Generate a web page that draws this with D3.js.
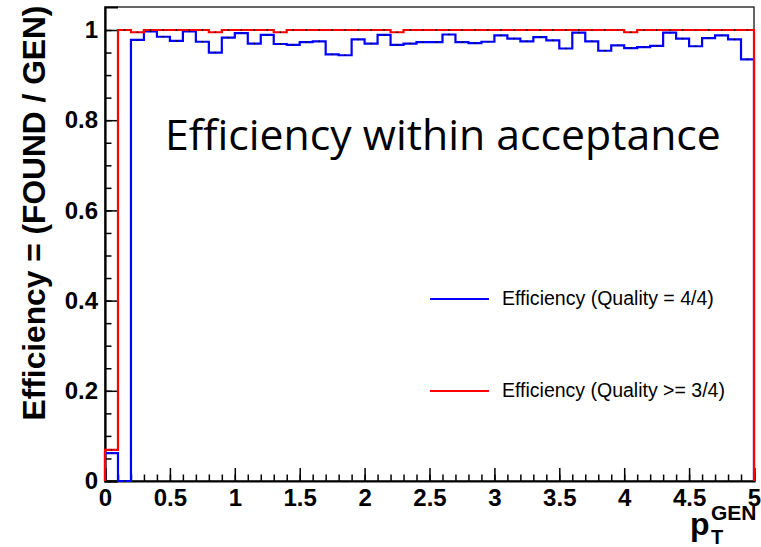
<!DOCTYPE html>
<html>
<head>
<meta charset="utf-8">
<script src="https://cdn.jsdelivr.net/npm/d3@7"></script>
<style>
  html, body { margin: 0; padding: 0; background: #fff; }
  svg { display: block; }
</style>
</head>
<body>
<svg id="chart" width="761" height="547"></svg>
<script>
// Histogram bins: 50 bins of width 0.1 in pT (GeV), from 0 to 5
const binEdges = d3.range(0, 51).map(i => +(i * 0.1).toFixed(1));

// Efficiency with all four layers found (Quality = 4/4)
const effQuality4 = [
  0.062, 0.000, 0.978, 0.997, 0.985, 0.976, 0.997, 0.974, 0.950, 0.983,
  0.993, 0.970, 0.989, 0.969, 0.967, 0.973, 0.975, 0.946, 0.944, 0.979,
  0.970, 0.989, 0.967, 0.970, 0.973, 0.973, 0.990, 0.973, 0.971, 0.974,
  0.988, 0.981, 0.975, 0.984, 0.977, 0.959, 0.994, 0.975, 0.954, 0.966,
  0.960, 0.962, 0.965, 0.994, 0.981, 0.964, 0.982, 0.988, 0.979, 0.935
];

// Efficiency with at least three of four layers found (Quality >= 3/4)
const effQuality3 = [
  0.069, 1.000, 0.995, 1.000, 1.000, 1.000, 1.000, 1.000, 0.995, 1.000,
  1.000, 1.000, 1.000, 0.995, 1.000, 1.000, 1.000, 1.000, 1.000, 1.000,
  1.000, 1.000, 0.995, 1.000, 1.000, 1.000, 1.000, 1.000, 1.000, 1.000,
  1.000, 1.000, 1.000, 1.000, 1.000, 1.000, 1.000, 1.000, 1.000, 1.000,
  0.995, 1.000, 1.000, 1.000, 1.000, 1.000, 1.000, 1.000, 1.000, 1.000
];

const xTickValues = [0, 0.5, 1, 1.5, 2, 2.5, 3, 3.5, 4, 4.5, 5];
const xTickLabels = ["0", "0.5", "1", "1.5", "2", "2.5", "3", "3.5", "4", "4.5", "5"];
const yTickValues = [0, 0.2, 0.4, 0.6, 0.8, 1];
const yTickLabels = ["0", "0.2", "0.4", "0.6", "0.8", "1"];

const seriesNames = ["Efficiency (Quality = 4/4)", "Efficiency (Quality >= 3/4)"];
const seriesColors = ["#0000ff", "#ff0000"];

const svg = d3.select("#chart");
const frame = { left: 105, right: 754, top: 7, bottom: 481 };

const x = d3.scaleLinear().domain([0, 5]).range([frame.left, frame.right]);
const y = d3.scaleLinear().domain([0, 1.051]).range([frame.bottom, frame.top]);

// Frame box
svg.append("rect")
  .attr("x", frame.left).attr("y", frame.top)
  .attr("width", frame.right - frame.left).attr("height", frame.bottom - frame.top)
  .attr("fill", "none").attr("stroke", "#000").attr("stroke-width", 1.2);

const tickFont = "'Liberation Sans', Arial, Helvetica, sans-serif";
const tickSize = 24;

// X axis: major ticks every 0.5, minor every 0.1, drawn inward
const xMinor = d3.axisBottom(x).tickValues(d3.range(0, 51).map(i => i / 10))
  .tickSize(-6.5).tickFormat("");
svg.append("g").attr("transform", `translate(0,${frame.bottom})`).call(xMinor)
  .call(g => g.select(".domain").remove())
  .selectAll("line").attr("stroke", "#000").attr("stroke-width", 1.5);

const xMajor = d3.axisBottom(x).tickValues(xTickValues).tickSize(-13).tickPadding(8)
  .tickFormat((d, i) => xTickLabels[i]);
const gx = svg.append("g").attr("transform", `translate(0,${frame.bottom})`).call(xMajor);
gx.select(".domain").attr("stroke", "#000").attr("stroke-width", 2.2);
gx.selectAll("line").attr("stroke", "#000").attr("stroke-width", 1.5);
gx.selectAll("text").attr("font-family", tickFont).attr("font-size", tickSize)
  .attr("font-weight", "bold").attr("fill", "#000");

// Y axis: major ticks every 0.2, minor every 0.05, drawn inward
const yMinor = d3.axisLeft(y).tickValues(d3.range(0, 21).map(i => i * 0.05))
  .tickSize(-6.5).tickFormat("");
svg.append("g").attr("transform", `translate(${frame.left},0)`).call(yMinor)
  .call(g => g.select(".domain").remove())
  .selectAll("line").attr("stroke", "#000").attr("stroke-width", 1.5);

const yMajor = d3.axisLeft(y).tickValues(yTickValues).tickSize(-13).tickPadding(7)
  .tickFormat((d, i) => yTickLabels[i]);
const gy = svg.append("g").attr("transform", `translate(${frame.left},0)`).call(yMajor);
gy.select(".domain").attr("stroke", "#000").attr("stroke-width", 2.2);
gy.selectAll("line").attr("stroke", "#000").attr("stroke-width", 1.5);
gy.selectAll("text").attr("font-family", tickFont).attr("font-size", tickSize)
  .attr("font-weight", "bold").attr("fill", "#000");

// Step outline of a histogram, closing to zero at both edges
function stepPoints(values) {
  const pts = [[binEdges[0], 0]];
  values.forEach((v, i) => {
    pts.push([binEdges[i], v]);
    pts.push([binEdges[i + 1], v]);
  });
  pts.push([binEdges[binEdges.length - 1], 0]);
  return pts;
}
const stepLine = d3.line().x(d => x(d[0])).y(d => y(d[1]));

[effQuality4, effQuality3].forEach((vals, k) => {
  svg.append("path")
    .attr("d", stepLine(stepPoints(vals)))
    .attr("fill", "none")
    .attr("stroke", seriesColors[k])
    .attr("stroke-width", 2.2)
    .attr("stroke-linejoin", "miter");
  // small markers at bin centres
  svg.append("g").selectAll("rect")
    .data(vals.map((v, i) => [(binEdges[i] + binEdges[i + 1]) / 2, v]))
    .join("rect")
    .attr("x", d => x(d[0]) - 0.75).attr("y", d => y(d[1]) - 0.75)
    .attr("width", 1.5).attr("height", 1.5)
    .attr("fill", "#111");
});

// Fit a text element to a target width by adjusting its font size
function fitWidth(sel, target) {
  const base = +sel.attr("font-size");
  const w = sel.node().getComputedTextLength();
  if (w > 0) sel.attr("font-size", base * target / w);
}

// Title inside the frame
const title = svg.append("text")
  .attr("x", 165).attr("y", 150)
  .attr("font-family", "'Open Sans', 'DejaVu Sans', sans-serif")
  .attr("font-size", 40).attr("fill", "#000")
  .text("Efficiency within acceptance");
fitWidth(title, 556);

// Legend
const legendRows = [299, 391];
seriesNames.forEach((name, k) => {
  svg.append("line")
    .attr("x1", 430).attr("x2", 489)
    .attr("y1", legendRows[k]).attr("y2", legendRows[k])
    .attr("stroke", seriesColors[k]).attr("stroke-width", 2.2);
  const t = svg.append("text")
    .attr("x", 502).attr("y", legendRows[k] + 5.5)
    .attr("font-family", tickFont).attr("font-size", 15).attr("fill", "#000")
    .text(name);
  fitWidth(t, k === 0 ? 212 : 223);
});

// Y axis title
const ytitle = svg.append("text")
  .attr("transform", "translate(45,213) rotate(-90)")
  .attr("text-anchor", "middle")
  .attr("font-family", tickFont).attr("font-size", 27).attr("font-weight", "bold")
  .attr("fill", "#000")
  .text("Efficiency = (FOUND / GEN)");
fitWidth(ytitle, 415);

// X axis title: p_T^GEN
const xt = svg.append("g").attr("font-family", tickFont).attr("font-weight", "bold").attr("fill", "#000");
xt.append("text").attr("x", 690).attr("y", 535).attr("font-size", 32).text("p");
xt.append("text").attr("x", 711).attr("y", 520).attr("font-size", 21).text("GEN");
xt.append("text").attr("x", 711).attr("y", 544).attr("font-size", 20).text("T");
</script>
</body>
</html>
